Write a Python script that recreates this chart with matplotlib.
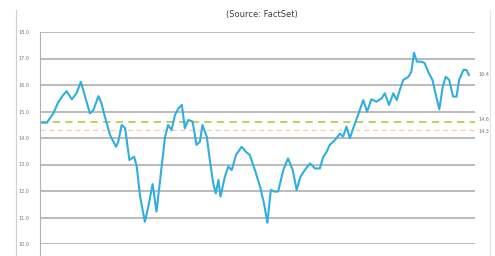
import matplotlib.pyplot as plt

# forward P/E, time in years from start
years = [0.04, 0.16, 0.31, 0.43, 0.54, 0.62, 0.74, 0.85, 0.95, 1.05,
         1.16, 1.24, 1.36, 1.43, 1.51, 1.63, 1.77, 1.82, 1.90, 1.98,
         2.08, 2.19, 2.25, 2.33, 2.44, 2.52, 2.62, 2.71, 2.83, 2.91,
         2.98, 3.06, 3.14, 3.22, 3.30, 3.37, 3.45, 3.55, 3.64, 3.72,
         3.78, 3.88, 3.95, 4.03, 4.09, 4.15, 4.20, 4.30, 4.38, 4.46,
         4.56, 4.69, 4.79, 4.88, 5.00, 5.12, 5.21, 5.29, 5.37, 5.45,
         5.54, 5.66, 5.77, 5.88, 5.97, 6.06, 6.16, 6.28, 6.40, 6.51,
         6.59, 6.67, 6.74, 6.86, 6.98, 7.05, 7.13, 7.21, 7.30, 7.40,
         7.52, 7.61, 7.71, 7.83, 7.95, 8.02, 8.12, 8.22, 8.30, 8.37,
         8.45, 8.57, 8.64, 8.70, 8.77, 8.88, 8.95, 9.03, 9.13, 9.21,
         9.29, 9.37, 9.44, 9.52, 9.61, 9.69, 9.75, 9.85, 9.92, 9.98]
pe = [14.58, 14.58, 14.93, 15.37, 15.62, 15.77, 15.46, 15.69, 16.12, 15.56,
      14.93, 15.05, 15.58, 15.31, 14.80, 14.11, 13.67, 13.86, 14.49, 14.37,
      13.17, 13.29, 12.92, 11.78, 10.84, 11.41, 12.26, 11.22, 12.92, 14.05,
      14.49, 14.30, 14.87, 15.12, 15.25, 14.37, 14.68, 14.62, 13.74, 13.86,
      14.49, 14.05, 13.17, 12.29, 11.91, 12.42, 11.79, 12.54, 12.92, 12.79,
      13.36, 13.67, 13.48, 13.36, 12.79, 12.16, 11.54, 10.80, 12.04, 11.98,
      11.98, 12.79, 13.23, 12.79, 12.04, 12.54, 12.79, 13.04, 12.85, 12.85,
      13.29, 13.48, 13.74, 13.92, 14.17, 14.05, 14.43, 13.99, 14.43, 14.87,
      15.43, 14.99, 15.46, 15.37, 15.50, 15.69, 15.25, 15.69, 15.43, 15.81,
      16.19, 16.31, 16.50, 17.22, 16.88, 16.88, 16.82, 16.50, 16.19, 15.62,
      15.08, 15.94, 16.31, 16.19, 15.56, 15.56, 16.19, 16.57, 16.57, 16.38]

current = 16.4
avg_5yr = 14.6
avg_10yr = 14.3
yticks = [10, 11, 12, 13, 14, 15, 16, 17, 18]

fig = plt.figure(figsize=(4.95, 2.56), dpi=100)
fig.patch.set_facecolor('white')

# outer chart frame lines (left and right)
fig.add_artist(plt.Line2D([16 / 495, 16 / 495], [0, 1 - 10 / 256], color='#d0d0d0', lw=0.8))
fig.add_artist(plt.Line2D([490 / 495, 490 / 495], [0, 1 - 10 / 256], color='#e4e4e4', lw=0.8))

ax = fig.add_axes([40 / 495, 12 / 256, 435 / 495, 212 / 256])
ax.set_xlim(0, 10.12)
ax.set_ylim(10, 18)
ax.set_yticks(yticks)
ax.set_yticklabels(['%.1f' % v for v in yticks], fontsize=3.5, color='#777777')
ax.set_xticks([])
ax.tick_params(axis='y', length=0, pad=8)
ax.grid(axis='y', color='#a8a8a8', lw=1.1)
ax.set_axisbelow(True)
for s in ['top', 'right', 'bottom']:
    ax.spines[s].set_visible(False)
ax.spines['left'].set_color('#b0b0b0')
ax.spines['left'].set_linewidth(0.8)
ax.spines['left'].set_bounds(9.5, 18)

ax.axhline(avg_5yr, color='#b7cf4a', lw=1.3, ls=(0, (4, 3)))
ax.axhline(avg_10yr, color='#f6cfae', lw=0.9, ls=(0, (4, 3)))
ax.plot(years, pe, color='#30aee0', lw=1.5, solid_joinstyle='round')

ax.text(1.008, current, '%.1f' % current, transform=ax.get_yaxis_transform(),
        fontsize=3.5, color='#777777', va='center')
ax.text(1.008, avg_5yr + 0.08, '%.1f' % avg_5yr, transform=ax.get_yaxis_transform(),
        fontsize=3.5, color='#777777', va='center')
ax.text(1.008, avg_10yr - 0.05, '%.1f' % avg_10yr, transform=ax.get_yaxis_transform(),
        fontsize=3.5, color='#777777', va='center')

fig.text(262 / 495, 1 - 15 / 256, '(Source: FactSet)', ha='center', va='center',
         fontsize=6, color='#404040')

fig.savefig('out.png', dpi=100)
